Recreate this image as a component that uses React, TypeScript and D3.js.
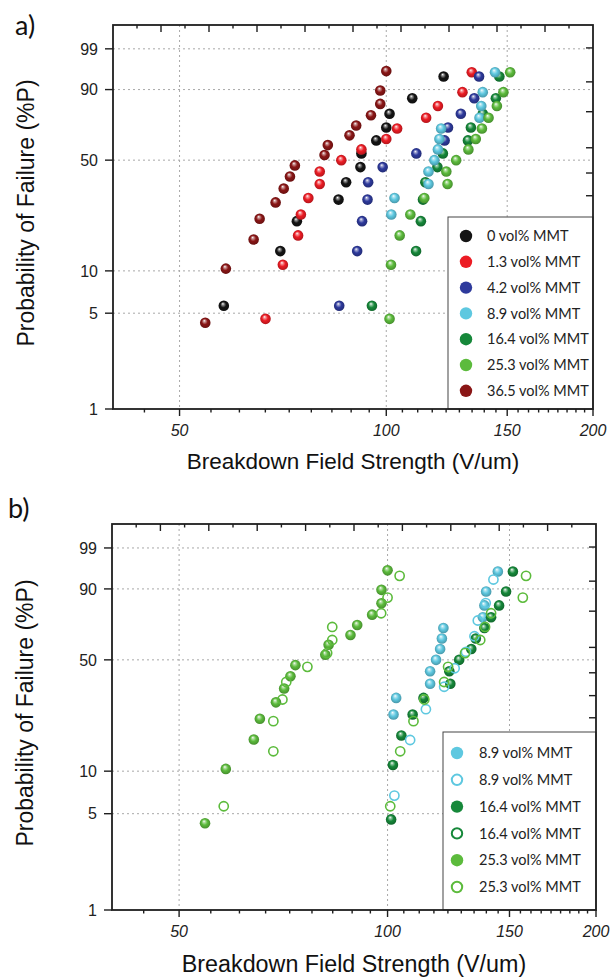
import React from 'react';
import * as d3 from 'd3';

// ---------- DATA ----------
// Breakdown field (V/um) and probability of failure (%) per series.
const rank12P = [5.65, 13.71, 21.77, 29.84, 37.9, 45.97, 54.03, 62.1, 70.16, 78.23, 86.29, 94.35];
const rank15P = [4.55, 11.04, 17.53, 24.03, 30.52, 37.01, 43.51, 50.0, 56.49, 62.99, 69.48, 75.97, 82.47, 88.96, 95.45];
const rank16P = [4.27, 10.37, 16.46, 22.56, 28.66, 34.76, 40.85, 46.95, 53.05, 59.15, 65.24, 71.34, 77.44, 83.54, 89.63, 95.73];
const rank10P = [6.73, 16.35, 25.96, 35.58, 45.19, 54.81, 64.42, 74.04, 83.65, 93.27];

const mmt0E = [58.0, 70.1, 74.1, 85.2, 87.4, 91.7, 92.0, 96.7, 100.0, 101.1, 109.1, 121.2];
const mmt0P = rank12P;
const mmt13E = [66.7, 70.7, 74.4, 75.1, 77.0, 80.0, 80.0, 86.0, 92.0, 100.0, 103.7, 114.3, 118.9, 129.1, 133.2];
const mmt13P = rank15P;
const mmt42E = [85.4, 90.7, 92.2, 93.9, 94.1, 98.8, 110.6, 121.6, 123.0, 128.4, 134.3, 136.5];
const mmt42P = rank12P;
const mmt89E = [101.7, 102.8, 115.2, 115.2, 117.5, 118.9, 119.5, 120.2, 136.7, 137.5, 138.2, 144.0];
const mmt89P = [24.03, 30.52, 37.01, 43.51, 50.0, 56.49, 62.99, 69.48, 75.97, 82.47, 88.96, 95.45];
const mmt164E = [95.3, 110.5, 112.3, 113.1, 114.0, 118.7, 120.9, 131.5, 132.8, 138.2, 144.4, 146.1];
const mmt164P = rank12P;
const mmt253E = [101.1, 101.6, 104.6, 108.4, 113.6, 122.8, 122.3, 126.4, 131.7, 135.0, 137.8, 140.9, 144.9, 148.1, 151.5];
const mmt253P = rank15P;
const mmt365E = [54.5, 58.4, 64.1, 65.4, 69.0, 70.9, 72.4, 73.6, 81.3, 82.2, 88.4, 90.4, 95.0, 98.0, 98.0, 100.0];
const mmt365P = rank16P;

// panel b
const b89FilledE = [102.0, 102.9, 115.2, 115.2, 117.5, 119.1, 119.8, 120.4, 137.3, 138.0, 138.8, 144.3];
const b89FilledP = mmt89P;
const b89OpenE = [102.3, 107.8, 113.6, 120.7, 125.0, 129.8, 133.5, 135.0, 138.6, 142.2];
const b89OpenP = rank10P;
const b164FilledE = [101.2, 101.8, 104.7, 108.7, 112.7, 123.2, 122.8, 126.9, 132.1, 134.1, 138.0, 141.1, 144.9, 148.3, 151.7];
const b164FilledP = rank15P;
const bRightOpenE = [100.9, 104.3, 109.0, 113.0, 120.7, 122.3, 129.4, 136.1, 138.3, 141.1, 156.8, 158.5];
const bRightOpenP = rank12P;
const b253FilledE = mmt365E;
const b253FilledP = rank16P;
const b253OpenE = [58.0, 68.4, 68.4, 70.5, 71.4, 76.6, 81.8, 83.2, 83.2, 97.9, 100.0, 104.1];
const b253OpenP = rank12P;

const yTickValues = [1, 5, 10, 50, 90, 99];
const yGridValues = [5, 10, 50, 90, 99];
const xTickLabels = [50, 100, 150, 200];
const xGridValues = [50, 100, 150];
const rightTickP = [99.07, 92.76, 79.4, 57.5, 42.7, 31.5, 22.9, 16.5, 11.5, 7.5, 4.5, 2.5];

const legendA = ['0 vol% MMT', '1.3 vol% MMT', '4.2 vol% MMT', '8.9 vol% MMT', '16.4 vol% MMT', '25.3 vol% MMT', '36.5 vol% MMT'];
const legendB = ['8.9 vol% MMT', '8.9 vol% MMT', '16.4 vol% MMT', '16.4 vol% MMT', '25.3 vol% MMT', '25.3 vol% MMT'];

// ---------- STYLE ----------
const COLORS: Record<string, string> = {
  black: '#141414',
  red: '#ec1c24',
  blue: '#2e3a9c',
  cyan: '#5ec8e0',
  green: '#16883a',
  lgreen: '#5cbb3c',
  dred: '#8a1616',
};

type Series = { E: number[]; P: number[]; color: string; open?: boolean };

const seriesA: Series[] = [
  { E: mmt0E, P: mmt0P, color: 'black' },
  { E: mmt13E, P: mmt13P, color: 'red' },
  { E: mmt42E, P: mmt42P, color: 'blue' },
  { E: mmt164E, P: mmt164P, color: 'green' },
  { E: mmt89E, P: mmt89P, color: 'cyan' },
  { E: mmt253E, P: mmt253P, color: 'lgreen' },
  { E: mmt365E, P: mmt365P, color: 'dred' },
];
const legendAColors = ['black', 'red', 'blue', 'cyan', 'green', 'lgreen', 'dred'];

const seriesB: Series[] = [
  { E: b253FilledE, P: b253FilledP, color: 'lgreen' },
  { E: b253OpenE, P: b253OpenP, color: 'lgreen', open: true },
  { E: b89FilledE, P: b89FilledP, color: 'cyan' },
  { E: b164FilledE, P: b164FilledP, color: 'green' },
  { E: b89OpenE, P: b89OpenP, color: 'cyan', open: true },
  { E: bRightOpenE, P: bRightOpenP, color: 'lgreen', open: true },
];
const legendBStyle = [
  { color: 'cyan', open: false },
  { color: 'cyan', open: true },
  { color: 'green', open: false },
  { color: 'green', open: true },
  { color: 'lgreen', open: false },
  { color: 'lgreen', open: true },
];

const wb = (p: number) => Math.log(-Math.log(1 - p / 100));

type Geo = {
  id: string;
  left: number; right: number; top: number; bottom: number;
  label: string; labelX: number; labelY: number;
  xTitleY: number; xTitleSize: number; yTitleX: number;
  legend: { x: number; y: number; y0: number; step: number; mx: number; tx: number };
};

const GEO_A: Geo = {
  id: 'a', left: 113, right: 593, top: 25, bottom: 409,
  label: 'a)', labelX: 15, labelY: 35,
  xTitleY: 469, xTitleSize: 22.5, yTitleX: 34,
  legend: { x: 448, y: 217, y0: 236, step: 25.8, mx: 466, tx: 487 },
};
const GEO_B: Geo = {
  id: 'b', left: 112, right: 596, top: 524, bottom: 910,
  label: 'b)', labelX: 8, labelY: 518,
  xTitleY: 972, xTitleSize: 23.3, yTitleX: 33,
  legend: { x: 443, y: 732, y0: 753, step: 26.8, mx: 457, tx: 479 },
};

const FONT = '"Liberation Sans", Arial, sans-serif';
const LEG_FONT = 'Lato, "Open Sans", sans-serif';
const AX = '#1e1e1e';

function Gradients() {
  return (
    <defs>
      {Object.entries(COLORS).map(([k, c]) => {
        const base = d3.color(c)!;
        const light = d3.interpolateRgb(c, '#ffffff')(0.55);
        const dark = base.darker(0.9).formatHex();
        return (
          <radialGradient key={k} id={`sph-${k}`} cx="50%" cy="50%" r="55%" fx="40%" fy="30%">
            <stop offset="0%" stopColor="#ffffff" />
            <stop offset="18%" stopColor={light} />
            <stop offset="50%" stopColor={c} />
            <stop offset="100%" stopColor={dark} />
          </radialGradient>
        );
      })}
    </defs>
  );
}

function Panel({ g, series, legendLabels, legendStyles }: {
  g: Geo; series: Series[]; legendLabels: string[]; legendStyles: { color: string; open: boolean }[];
}) {
  const x = d3.scaleLog().domain([40, 200]).range([g.left, g.right]);
  const xTop = d3.scaleLinear().domain([40, 200]).range([g.left, g.right]);
  const y = d3.scaleLinear().domain([wb(1), wb(99.9)]).range([g.bottom, g.top]);
  const minor = d3.range(8, 37).map((k) => (k * 100) / 18);
  const topTicks = d3.range(48, 200, 8);
  const cxm = (g.left + g.right) / 2;
  const cym = (g.top + g.bottom) / 2;
  const L = g.legend;
  return (
    <g>
      {/* grid */}
      {yGridValues.map((p) => (
        <line key={`gy${p}`} x1={g.left} x2={g.right} y1={y(wb(p))} y2={y(wb(p))}
          stroke="#a8a8a8" strokeWidth={1} strokeDasharray="2 3" />
      ))}
      {xGridValues.map((v) => (
        <line key={`gx${v}`} x1={x(v)} x2={x(v)} y1={g.top} y2={g.bottom}
          stroke="#a8a8a8" strokeWidth={1} strokeDasharray="2 3" />
      ))}
      {/* right ticks (inward, hidden under legend) */}
      {rightTickP.map((p) => (
        <line key={`rt${p}`} x1={g.right - 7} x2={g.right} y1={y(wb(p))} y2={y(wb(p))} stroke={AX} strokeWidth={1.4} />
      ))}
      {/* data */}
      {series.map((s, si) =>
        s.E.map((e, i) =>
          s.open ? (
            <circle key={`${si}-${i}`} cx={x(e)} cy={y(wb(s.P[i]))} r={4.6}
              fill="none" stroke={COLORS[s.color]} strokeWidth={1.6} />
          ) : (
            <circle key={`${si}-${i}`} cx={x(e)} cy={y(wb(s.P[i]))} r={5.3}
              fill={`url(#sph-${s.color})`} />
          )
        )
      )}
      {/* legend */}
      <rect x={L.x} y={L.y} width={g.right - L.x} height={g.bottom - L.y} fill="#fff" stroke="#444" strokeWidth={1} />
      {legendLabels.map((t, i) => {
        const st = legendStyles[i];
        const yy = L.y0 + i * L.step;
        return (
          <g key={`l${i}`}>
            {st.open ? (
              <circle cx={L.mx} cy={yy} r={5.2} fill="#fff" stroke={COLORS[st.color]} strokeWidth={2} />
            ) : (
              <circle cx={L.mx} cy={yy} r={6.2} fill={COLORS[st.color]} />
            )}
            <text x={L.tx} y={yy} dy="0.36em" fontFamily={LEG_FONT} fontSize={14.5} fill="#222">{t}</text>
          </g>
        );
      })}
      {/* frame */}
      <rect x={g.left} y={g.top} width={g.right - g.left} height={g.bottom - g.top} fill="none" stroke={AX} strokeWidth={1.8} />
      {/* bottom ticks */}
      {minor.map((v) => {
        const major = xTickLabels.some((m) => Math.abs(m - v) < 0.01);
        return <line key={`bt${v}`} x1={x(v)} x2={x(v)} y1={g.bottom} y2={g.bottom + (major ? 7 : 3.5)} stroke={AX} strokeWidth={1.4} />;
      })}
      {xTickLabels.map((v) => (
        <text key={`bl${v}`} x={x(v)} y={g.bottom + 27} textAnchor="middle" fontFamily={FONT} fontStyle="italic" fontSize={16} fill="#222">{v}</text>
      ))}
      {/* top ticks */}
      {topTicks.map((v) => {
        const major = (v - 40) % 16 === 0;
        return <line key={`tt${v}`} x1={xTop(v)} x2={xTop(v)} y1={g.top} y2={g.top + (major ? 7 : 3.5)} stroke={AX} strokeWidth={1.4} />;
      })}
      {/* left ticks */}
      {yTickValues.map((p) => (
        <g key={`lt${p}`}>
          <line x1={g.left - 8} x2={g.left} y1={y(wb(p))} y2={y(wb(p))} stroke={AX} strokeWidth={1.4} />
          <text x={g.left - 15} y={y(wb(p))} dy="0.36em" textAnchor="end" fontFamily={FONT} fontSize={16} fill="#222">{p}</text>
        </g>
      ))}
      {/* titles */}
      <text x={cxm} y={g.xTitleY} textAnchor="middle" fontFamily={FONT} fontSize={g.xTitleSize} fill="#111">Breakdown Field Strength (V/um)</text>
      <text transform={`translate(${g.yTitleX},${cym - 4}) rotate(-90)`} textAnchor="middle" fontFamily={FONT} fontSize={23} fill="#111">Probability of Failure (%P)</text>
      <text x={g.labelX} y={g.labelY} fontFamily={LEG_FONT} fontSize={27} fill="#111">{g.label}</text>
    </g>
  );
}

export default function App() {
  return (
    <svg width={615} height={977} style={{ position: 'absolute', left: 0, top: 0, background: '#fff' }}>
      <Gradients />
      <rect width={615} height={977} fill="#fff" />
      <Panel g={GEO_A} series={seriesA} legendLabels={legendA} legendStyles={legendAColors.map((c) => ({ color: c, open: false }))} />
      <Panel g={GEO_B} series={seriesB} legendLabels={legendB} legendStyles={legendBStyle} />
    </svg>
  );
}
